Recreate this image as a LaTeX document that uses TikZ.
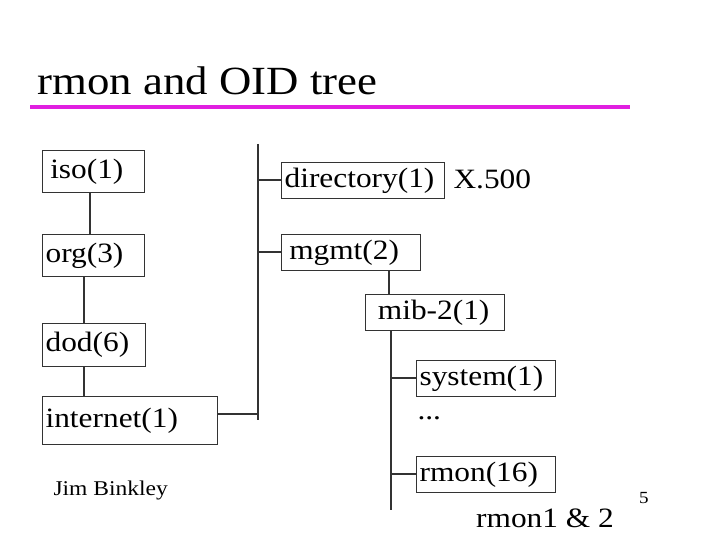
\documentclass[tikz,border=0pt]{standalone}
\usepackage{fontspec}
\setmainfont[FakeStretch=1.12]{Liberation Serif}
\definecolor{mag}{HTML}{E020E0}
\definecolor{ln}{HTML}{333333}
\begin{document}
\begin{tikzpicture}[x=1pt,y=-1pt,
  bx/.style={draw=ln,line width=1.2pt,anchor=north west,align=left,inner xsep=3pt,inner ysep=0pt,font=\fontsize{28}{28}\selectfont},
  cn/.style={draw=ln,line width=1.2pt}]
\useasboundingbox (0,0) rectangle (720,540);
\node[anchor=base west,font=\fontsize{40}{40}\selectfont] (title) at (34,95) {rmon and OID tree};
\draw[mag,line width=4pt] (30,107) -- (630,107);
\newcommand\bxx[6]{\node[bx,text width=#4-6pt,minimum height=#5] (#1) at (#2,#3) {#6};}
\bxx{iso}{42}{150}{102}{42}{\,iso(1)}
\bxx{org}{42}{234}{102}{42}{org(3)}
\bxx{dod}{42}{323}{103}{43}{dod(6)}
\bxx{inet}{42}{396}{175}{48}{internet(1)}
\bxx{dir}{281}{162}{163}{36}{directory(1)}
\bxx{mgmt}{281}{234}{139}{36}{\,mgmt(2)}
\bxx{mib}{365}{294}{139}{36}{\,\,mib-2(1)}
\bxx{sys}{416}{360}{139}{36}{system(1)}
\bxx{rmon}{416}{456}{139}{36}{rmon(16)}
\node[anchor=west,font=\fontsize{28}{28}\selectfont] (x500) at (450,179) {X.500};
\node[anchor=west,font=\fontsize{28}{28}\selectfont] (dots) at (414,418) {...};
\node[font=\fontsize{28}{28}\selectfont] (r12) at (545,518) {rmon1 \& 2};
\node[anchor=west,font=\fontsize{21}{21}\selectfont] (jim) at (50,490) {Jim Binkley};
\node[font=\fontsize{17}{17}\selectfont] (pg) at (644,498) {5};
\coordinate (mt) at (258,144); \coordinate (mb) at (258,420);
\coordinate (vt) at (391,330); \coordinate (vb) at (391,510);
\draw[cn] (mt) -- (mb);
\draw[cn] (vt) -- (vb);
\draw[cn] (iso.south -| 90,0) -- (org.north -| 90,0);
\draw[cn] (org.south -| 84,0) -- (dod.north -| 84,0);
\draw[cn] (dod.south -| 84,0) -- (inet.north -| 84,0);
\draw[cn] (inet.east |- 0,414) -- (258,414);
\draw[cn] (258,180) -- (dir.west |- 0,180);
\draw[cn] (258,252) -- (mgmt.west |- 0,252);
\draw[cn] (mgmt.south -| 389,0) -- (mib.north -| 389,0);
\draw[cn] (391,378) -- (sys.west |- 0,378);
\draw[cn] (391,474) -- (rmon.west |- 0,474);
\end{tikzpicture}
\end{document}
